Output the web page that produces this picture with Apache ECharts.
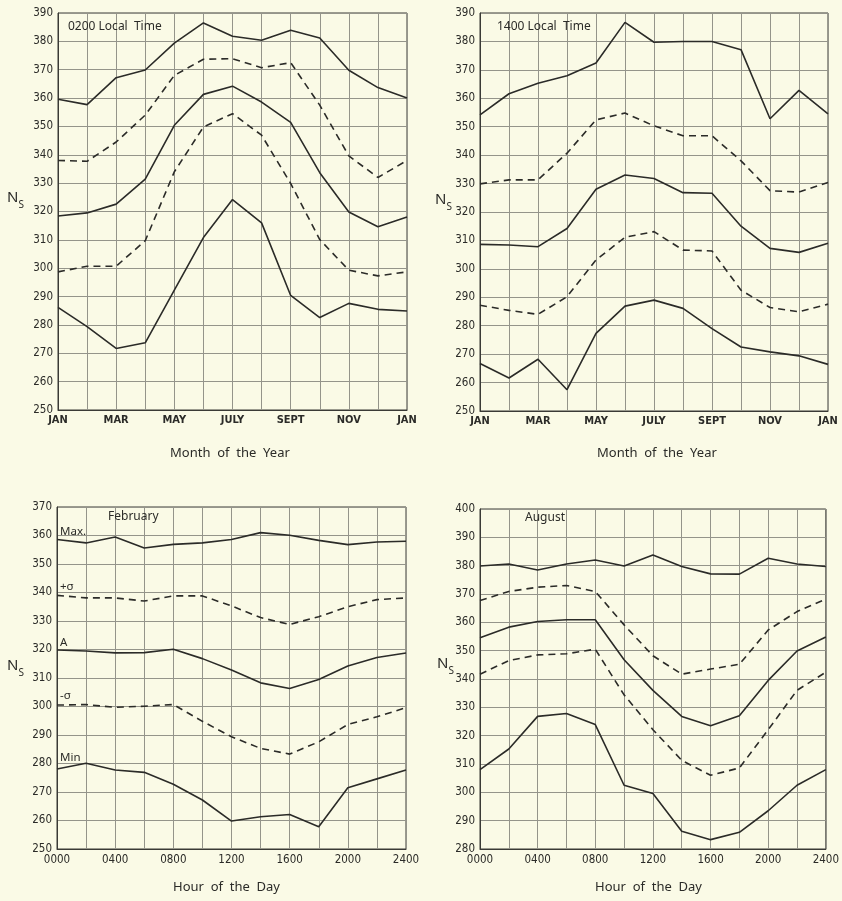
<!DOCTYPE html>
<html>
<head>
<meta charset="utf-8">
<script src="https://cdn.jsdelivr.net/npm/echarts@6/dist/echarts.min.js"></script>
<style>
  html, body { margin: 0; padding: 0; background: #fafae6; }
  #chart { width: 842px; height: 901px; }
</style>
</head>
<body>
<div id="chart"></div>
<script>
// month axis: 13 points Jan..Jan
var months = [0, 1, 2, 3, 4, 5, 6, 7, 8, 9, 10, 11, 12];
var monthLabels = ['JAN', '', 'MAR', '', 'MAY', '', 'JULY', '', 'SEPT', '', 'NOV', '', 'JAN'];

// hour axis
var hours = [0, 200, 400, 600, 800, 1000, 1200, 1400, 1600, 1800, 2000, 2200, 2400];
var hourLabels = ['0000', '', '0400', '', '0800', '', '1200', '', '1600', '', '2000', '', '2400'];

// 0200 local time, by month
var t0200Max   = [359.6, 357.7, 367.2, 369.9, 379.4, 386.5, 381.8, 380.4, 383.9, 381.2, 369.8, 363.7, 360.0];
var t0200Plus  = [338.0, 337.7, 344.5, 354.0, 368.0, 373.7, 373.9, 370.7, 372.5, 357.5, 339.6, 332.0, 338.0];
var t0200Mean  = [318.4, 319.5, 322.6, 331.4, 350.4, 361.3, 364.2, 358.6, 351.4, 333.7, 319.8, 314.6, 318.1];
var t0200Minus = [298.7, 300.7, 300.7, 309.7, 334.0, 349.8, 354.5, 346.9, 329.9, 310.1, 299.3, 297.3, 298.7];
var t0200Min   = [286.2, 279.4, 271.7, 273.7, 292.3, 310.8, 324.2, 316.0, 290.4, 282.6, 287.6, 285.5, 284.9];

// 1400 local time, by month
var t1400Max   = [354.2, 361.6, 365.3, 367.9, 372.4, 386.7, 379.7, 380.0, 380.0, 377.1, 352.8, 362.8, 354.5];
var t1400Plus  = [329.9, 331.3, 331.3, 340.7, 352.4, 354.8, 350.3, 346.8, 346.8, 338.0, 327.5, 327.0, 330.4];
var t1400Mean  = [308.6, 308.4, 307.8, 314.2, 328.0, 333.0, 331.8, 326.8, 326.6, 315.0, 307.2, 305.8, 309.0];
var t1400Minus = [287.2, 285.4, 284.0, 290.2, 303.1, 311.1, 313.1, 306.6, 306.3, 292.5, 286.4, 284.9, 287.6];
var t1400Min   = [266.7, 261.6, 268.2, 257.5, 277.3, 286.9, 289.0, 286.1, 279.0, 272.5, 270.8, 269.4, 266.4];

// February, by hour
var febMax   = [358.6, 357.4, 359.5, 355.6, 356.9, 357.4, 358.6, 361.0, 360.1, 358.3, 356.8, 357.7, 358.0];
var febPlus  = [339.0, 338.1, 338.1, 337.0, 338.8, 338.8, 335.3, 331.2, 328.8, 331.5, 335.0, 337.5, 338.1];
var febMean  = [319.8, 319.5, 318.8, 318.9, 320.1, 316.8, 312.8, 308.3, 306.3, 309.5, 314.2, 317.2, 318.8];
var febMinus = [300.5, 300.7, 299.7, 300.1, 300.7, 294.8, 289.4, 285.3, 283.3, 287.6, 293.7, 296.4, 299.6];
var febMin   = [278.1, 280.1, 277.7, 276.9, 272.7, 267.2, 259.8, 261.3, 262.1, 257.8, 271.5, 274.6, 277.7];

// August, by hour
var augMax   = [379.9, 380.6, 378.5, 380.6, 382.0, 379.9, 383.8, 379.7, 377.1, 377.0, 382.6, 380.6, 379.7];
var augPlus  = [367.7, 370.9, 372.4, 373.0, 370.9, 359.1, 348.2, 341.7, 343.5, 345.2, 357.3, 363.8, 368.2];
var augMean  = [354.6, 358.3, 360.3, 360.9, 360.9, 346.8, 336.0, 326.8, 323.5, 327.0, 339.5, 349.9, 354.8];
var augMinus = [341.7, 346.5, 348.5, 348.9, 350.5, 334.4, 322.1, 311.3, 306.0, 308.6, 322.1, 336.0, 342.4];
var augMin   = [308.0, 315.3, 326.8, 327.8, 323.9, 302.5, 299.6, 286.3, 283.3, 285.9, 293.5, 302.5, 308.0];

var curveNames = ['Max.', '+\u03c3', 'A', '-\u03c3', 'Min'];

var ink = '#2b2b28';
var gridInk = '#94948a';
var tickFont = "'DejaVu Sans Condensed', 'Liberation Sans Narrow', sans-serif";
var textFont = "'Noto Sans', 'DejaVu Sans', sans-serif";
// vertical offset of the curve tags (Feb panel) above their first point
var tagLift = [-14, -15, -13, -15, -17];

var chart = echarts.init(document.getElementById('chart'));

var grids = [
  { left: 58, top: 13, width: 349, height: 397 },
  { left: 480, top: 13, width: 348, height: 398 },
  { left: 57, top: 507, width: 349, height: 342 },
  { left: 480, top: 509, width: 348, height: 340 }
].map(function (g) {
  return Object.assign({ show: true, borderColor: '#3a3a36', borderWidth: 1, backgroundColor: 'transparent' }, g);
});

function monthAxis(i) {
  return {
    type: 'value', gridIndex: i, min: 0, max: 12, interval: 1,
    axisLine: { lineStyle: { color: '#3a3a36' } },
    axisTick: { show: false },
    splitLine: { lineStyle: { color: gridInk, width: 1 } },
    axisLabel: {
      margin: 5, color: ink, fontSize: 11, fontWeight: 'bold', fontFamily: tickFont,
      formatter: function (v) { return monthLabels[v] || ''; }
    }
  };
}

function hourAxis(i) {
  return {
    type: 'value', gridIndex: i, min: 0, max: 2400, interval: 200,
    axisLine: { lineStyle: { color: '#3a3a36' } },
    axisTick: { show: false },
    splitLine: { lineStyle: { color: gridInk, width: 1 } },
    axisLabel: {
      margin: 5, color: ink, fontSize: 11.5, fontFamily: tickFont,
      formatter: function (v) { return hourLabels[hours.indexOf(v)] || ''; }
    }
  };
}

function nsAxis(i, lo, hi) {
  return {
    type: 'value', gridIndex: i, min: lo, max: hi, interval: 10,
    axisLine: { show: true, lineStyle: { color: '#3a3a36' } },
    axisTick: { show: false },
    splitLine: { lineStyle: { color: gridInk, width: 1 } },
    axisLabel: { margin: 5, color: ink, fontSize: 11.5, fontFamily: tickFont }
  };
}

function curve(i, xs, ys, dashed, tag, lift) {
  return {
    type: 'line', xAxisIndex: i, yAxisIndex: i,
    symbol: 'circle', symbolSize: 0, showSymbol: !!tag,
    silent: true, animation: false,
    lineStyle: { color: ink, width: 1.6, type: dashed ? [7, 5] : 'solid' },
    itemStyle: { color: ink },
    data: xs.map(function (x, k) {
      if (tag && k === 0) {
        return {
          value: [x, ys[k]],
          label: {
            show: true, formatter: tag, position: [3, lift],
            color: ink, fontSize: 11.5, fontFamily: textFont
          }
        };
      }
      return [x, ys[k]];
    })
  };
}

var panels = [
  { xs: months, sets: [t0200Max, t0200Plus, t0200Mean, t0200Minus, t0200Min] },
  { xs: months, sets: [t1400Max, t1400Plus, t1400Mean, t1400Minus, t1400Min] },
  { xs: hours, sets: [febMax, febPlus, febMean, febMinus, febMin], tags: true },
  { xs: hours, sets: [augMax, augPlus, augMean, augMinus, augMin] }
];

var series = [];
panels.forEach(function (p, i) {
  p.sets.forEach(function (ys, k) {
    series.push(curve(i, p.xs, ys, k === 1 || k === 3,
      p.tags ? curveNames[k] : null, tagLift[k]));
  });
});

function label(text, left, top, size) {
  return {
    text: text, left: left, top: top, padding: 0,
    textStyle: { color: ink, fontSize: size || 12, fontWeight: 'normal', fontFamily: textFont }
  };
}

function nsLabel(left, top) {
  return {
    text: '{n|N}{s|S}', left: left, top: top, padding: 0,
    textStyle: {
      fontWeight: 'normal',
      rich: {
        n: { fontSize: 15, fontWeight: 'normal', color: ink, fontFamily: textFont, verticalAlign: 'bottom', padding: [0, 0, 5, 0] },
        s: { fontSize: 10, fontWeight: 'normal', color: ink, fontFamily: textFont, verticalAlign: 'bottom' }
      }
    }
  };
}

chart.setOption({
  backgroundColor: '#fafae6',
  animation: false,
  title: [
    label('0200 Local  Time', 68, 21, 12),
    label('1400 Local  Time', 497, 21, 12),
    label('February', 108, 511, 12),
    label('August', 525, 512, 12),
    label('Month  of  the  Year', 170, 447, 13),
    label('Month  of  the  Year', 597, 447, 13),
    label('Hour  of  the  Day', 173, 881, 13),
    label('Hour  of  the  Day', 595, 881, 13),
    nsLabel(7, 190),
    nsLabel(435, 192),
    nsLabel(7, 658),
    nsLabel(437, 656)
  ],
  grid: grids,
  xAxis: [monthAxis(0), monthAxis(1), hourAxis(2), hourAxis(3)],
  yAxis: [nsAxis(0, 250, 390), nsAxis(1, 250, 390), nsAxis(2, 250, 370), nsAxis(3, 280, 400)],
  series: series
});
</script>
</body>
</html>
